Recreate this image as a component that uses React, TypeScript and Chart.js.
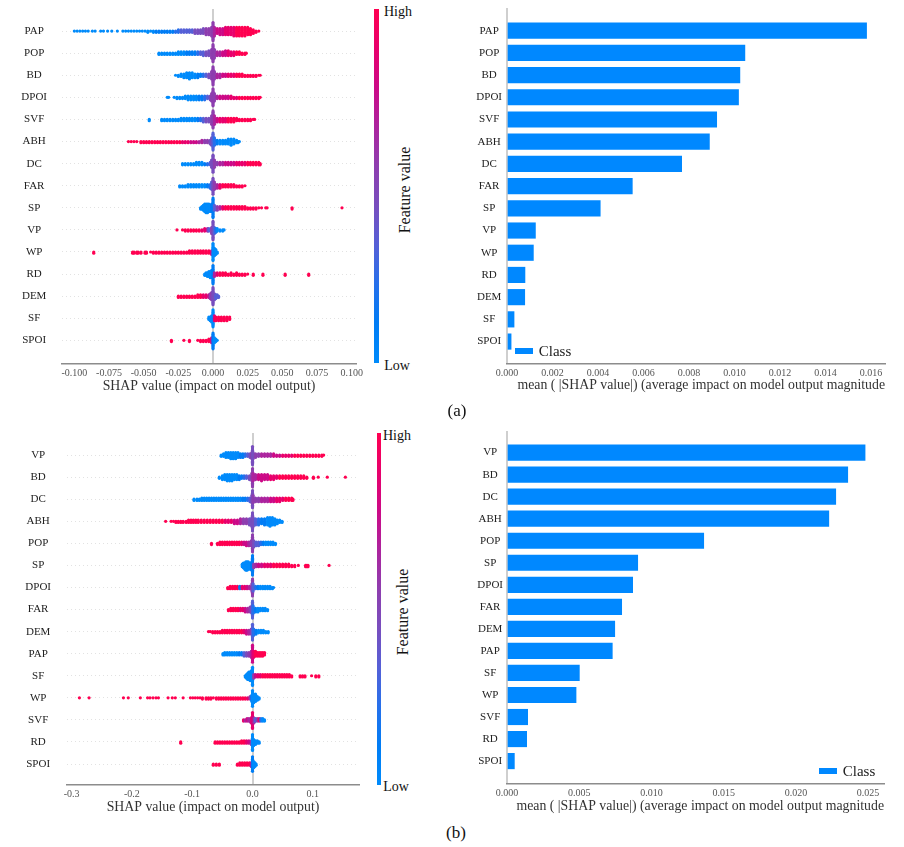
import React, { useEffect, useRef } from "react";
import { Chart, registerables } from "chart.js";

Chart.register(...registerables);

type Bin = [number, number, number]; // SHAP value (x1000), observations in the bin, feature value 0-9

const A_NAMES = ["PAP", "POP", "BD", "DPOI", "SVF", "ABH", "DC", "FAR", "SP", "VP", "WP", "RD", "DEM", "SF", "SPOI"];
const A_MEAN = [0.01581, 0.01046, 0.01024, 0.01018, 0.00922, 0.0089, 0.00768, 0.00551, 0.0041, 0.00125, 0.00116, 0.00079, 0.00078, 0.00031, 0.00018];
const A_SWARM_TICKS = [-0.1, -0.075, -0.05, -0.025, 0, 0.025, 0.05, 0.075, 0.1];
const A_BAR_TICKS = [0, 0.002, 0.004, 0.006, 0.008, 0.01, 0.012, 0.014, 0.016];

const B_NAMES = ["VP", "BD", "DC", "ABH", "POP", "SP", "DPOI", "FAR", "DEM", "PAP", "SF", "WP", "SVF", "RD", "SPOI"];
const B_MEAN = [0.02479, 0.02359, 0.02276, 0.02228, 0.01362, 0.00905, 0.0087, 0.00794, 0.00746, 0.00729, 0.00501, 0.00478, 0.00143, 0.00136, 0.00051];
const B_SWARM_TICKS = [-0.3, -0.2, -0.1, 0, 0.1];
const B_BAR_TICKS = [0, 0.005, 0.01, 0.015, 0.02, 0.025];

const a_PAP: Bin[] = [[-100,1,0],[-98,1,0],[-96,1,0],[-94,1,0],[-92,1,0],[-90,1,0],[-87,1,0],[-85,1,0],[-81,1,0],[-79,1,0],[-76,1,0],[-73,1,0],[-69,1,0],[-65,1,0],[-63,1,0],[-61,1,0],[-59,1,0],[-57,1,0],[-55,1,0],[-53,1,0],[-51,1,0],[-49,1,0],[-47,2,0],[-45,1,0],[-43,2,0],[-41,2,1],[-39,2,1],[-37,2,1],[-35,2,1],[-33,2,1],[-31,2,1],[-29,2,1],[-27,2,2],[-25,3,2],[-23,3,3],[-21,3,3],[-19,3,3],[-17,3,3],[-15,3,3],[-13,4,4],[-11,4,4],[-9,4,4],[-7,5,4],[-5,6,5],[-3,6,5],[-1,8,5],[0,16,5],[1,8,6],[3,5,7],[5,6,7],[7,6,7],[9,7,8],[11,7,8],[13,7,8],[15,8,8],[17,8,9],[19,8,9],[21,8,9],[23,8,9],[25,7,9],[27,6,9],[29,4,9],[31,2,9],[33,1,9]];
const a_POP: Bin[] = [[-39,2,0],[-37,2,0],[-35,2,0],[-33,2,0],[-31,2,0],[-29,2,0],[-27,2,0],[-25,3,0],[-23,3,0],[-21,3,0],[-19,3,1],[-17,3,1],[-15,3,1],[-13,3,1],[-11,3,2],[-9,3,3],[-7,4,3],[-5,4,4],[-3,5,4],[-1,8,5],[0,15,5],[1,8,5],[3,4,6],[5,4,6],[7,4,7],[9,5,7],[11,5,8],[13,4,8],[15,4,8],[17,3,9],[19,3,9],[21,2,9],[23,2,9],[24,1,9]];
const a_BD: Bin[] = [[-27,1,0],[-25,2,0],[-23,3,0],[-21,4,0],[-19,5,0],[-17,6,0],[-15,5,0],[-13,4,0],[-11,4,1],[-9,3,1],[-7,3,2],[-5,3,3],[-3,4,4],[-1,7,5],[0,16,5],[1,7,5],[3,4,6],[5,4,6],[7,3,7],[9,3,7],[11,3,8],[13,3,8],[15,3,8],[17,3,9],[19,3,9],[21,3,9],[23,2,9],[25,2,9],[27,2,9],[29,2,9],[31,2,9],[33,1,9],[34,1,9]];
const a_DPOI: Bin[] = [[-33,1,0],[-32,1,0],[-28,1,0],[-26,2,0],[-24,2,0],[-22,2,0],[-20,3,0],[-18,4,0],[-16,4,0],[-14,4,0],[-12,4,0],[-10,4,1],[-8,4,1],[-6,4,2],[-4,3,3],[-2,4,4],[-1,7,5],[0,15,5],[1,7,5],[3,3,6],[5,3,7],[7,3,7],[9,3,7],[11,3,7],[13,3,8],[15,2,8],[17,2,8],[19,2,9],[21,2,9],[23,2,9],[25,2,9],[27,2,9],[29,2,9],[31,2,9],[33,2,9],[34,1,9]];
const a_SVF: Bin[] = [[-46,2,0],[-37,2,0],[-35,2,0],[-33,2,0],[-31,2,0],[-29,2,0],[-27,2,0],[-25,2,0],[-23,3,0],[-21,3,0],[-19,3,0],[-17,3,0],[-15,3,0],[-13,3,0],[-11,3,1],[-9,3,2],[-7,4,3],[-5,4,4],[-3,4,4],[-1,8,5],[0,15,5],[1,8,6],[3,4,7],[5,4,8],[7,4,8],[9,4,8],[11,4,9],[13,4,9],[15,4,9],[17,3,9],[19,2,9],[21,2,9],[23,2,9],[25,2,9],[27,2,9],[29,1,9],[30,1,9]];
const a_ABH: Bin[] = [[-61,1,9],[-59,1,9],[-57,1,9],[-55,1,9],[-52,2,9],[-50,2,9],[-48,2,9],[-46,2,9],[-44,2,9],[-42,2,9],[-40,2,9],[-38,2,9],[-36,2,9],[-34,2,9],[-32,2,9],[-30,2,9],[-28,2,9],[-26,2,9],[-24,2,9],[-22,2,8],[-20,2,8],[-18,2,8],[-16,2,7],[-14,2,7],[-12,2,7],[-10,2,6],[-8,3,6],[-6,3,5],[-4,3,5],[-2,4,4],[-1,7,4],[0,15,3],[1,7,2],[3,4,1],[5,4,0],[7,4,0],[9,4,0],[11,5,0],[13,6,0],[15,5,0],[17,3,0],[18,2,0],[19,1,0]];
const a_DC: Bin[] = [[-22,2,0],[-20,2,0],[-18,2,0],[-16,2,0],[-14,2,0],[-12,3,0],[-10,3,0],[-8,3,0],[-6,2,1],[-4,2,2],[-2,3,3],[-1,7,4],[0,15,4],[1,7,5],[3,3,5],[5,3,6],[7,3,6],[9,3,7],[11,3,7],[13,3,7],[15,3,7],[17,3,8],[19,3,8],[21,3,8],[23,3,8],[25,3,9],[27,3,9],[29,3,9],[31,3,9],[33,3,9],[34,2,9]];
const a_FAR: Bin[] = [[-24,2,0],[-22,2,0],[-20,2,0],[-18,3,0],[-16,3,0],[-14,3,0],[-12,3,0],[-10,3,0],[-8,3,0],[-6,3,0],[-4,3,1],[-2,4,2],[-1,7,3],[0,14,4],[1,7,5],[3,4,6],[5,4,8],[7,3,9],[9,3,9],[11,3,9],[13,3,9],[15,3,9],[17,2,9],[19,2,9],[21,2,9],[23,1,9]];
const a_SP: Bin[] = [[-9,2,0],[-8,3,0],[-7,5,0],[-6,7,0],[-5,8,0],[-4,8,0],[-3,7,0],[-2,6,0],[-1,7,1],[0,17,1],[1,5,3],[3,4,5],[5,3,6],[7,3,8],[9,3,9],[11,3,9],[13,3,9],[15,3,9],[17,3,9],[19,3,9],[21,3,9],[23,3,9],[25,2,9],[27,2,9],[29,2,9],[31,2,9],[33,1,9],[35,1,9],[38,1,9],[39,1,9],[57,2,9],[93,1,9]];
const a_VP: Bin[] = [[-26,1,9],[-22,1,9],[-20,2,9],[-18,2,9],[-16,2,9],[-14,2,9],[-12,2,9],[-10,2,9],[-8,2,8],[-6,3,8],[-4,3,6],[-3,3,3],[-1,6,5],[0,16,4],[1,6,3],[2,4,2],[3,3,0],[5,2,0],[7,2,0],[8,1,0]];
const a_WP: Bin[] = [[-86,2,9],[-58,2,9],[-57,2,9],[-55,2,9],[-54,2,9],[-52,2,9],[-49,2,9],[-48,2,9],[-45,1,9],[-43,2,9],[-41,2,9],[-39,2,9],[-37,2,9],[-35,2,9],[-33,2,9],[-31,2,9],[-29,2,9],[-27,2,9],[-25,2,9],[-23,2,9],[-21,2,9],[-19,2,9],[-17,3,9],[-15,3,9],[-13,3,9],[-11,3,9],[-9,3,9],[-7,3,9],[-5,3,9],[-3,3,9],[-1,4,7],[0,15,0],[1,7,0],[2,5,0],[3,2,0]];
const a_RD: Bin[] = [[-6,2,0],[-5,3,0],[-4,4,0],[-3,5,0],[-2,6,0],[-1,7,0],[0,16,1],[1,4,6],[3,3,8],[5,3,9],[7,3,9],[9,3,9],[11,2,9],[13,3,9],[15,2,9],[17,3,9],[19,2,9],[21,2,9],[23,2,9],[25,1,9],[29,2,9],[36,2,9],[52,2,9],[69,2,9]];
const a_DEM: Bin[] = [[-25,2,9],[-23,2,9],[-21,2,9],[-19,2,9],[-17,2,9],[-15,2,9],[-13,2,9],[-11,3,9],[-9,3,9],[-7,3,8],[-5,3,8],[-3,3,7],[-2,5,5],[-1,7,5],[0,15,4],[1,6,4],[2,4,3],[3,3,3],[4,2,3]];
const a_SF: Bin[] = [[-3,3,0],[-2,4,0],[-1,6,0],[0,15,0],[1,5,7],[2,4,9],[4,4,9],[6,4,9],[8,4,9],[10,4,9],[12,3,9]];
const a_SPOI: Bin[] = [[-30,2,9],[-21,1,9],[-17,2,9],[-11,1,9],[-9,2,9],[-7,2,9],[-5,2,9],[-3,3,9],[-1,5,7],[0,14,1],[1,5,0],[2,3,0],[3,1,0]];

const b_VP: Bin[] = [[-52,2,0],[-48,3,0],[-44,5,0],[-40,5,0],[-36,6,0],[-32,6,0],[-28,6,0],[-24,5,0],[-20,4,1],[-16,4,1],[-12,3,2],[-8,3,3],[-4,4,4],[-1,6,5],[0,16,4],[1,6,4],[5,4,5],[10,3,5],[15,3,6],[20,3,6],[25,3,6],[30,3,6],[35,3,7],[40,2,7],[45,2,7],[50,2,8],[55,2,8],[60,2,8],[65,2,8],[70,2,9],[75,2,9],[80,2,9],[85,2,9],[90,2,9],[95,2,9],[100,2,9],[105,2,9],[110,2,9],[115,2,9],[118,1,9]];
const b_BD: Bin[] = [[-55,2,0],[-50,4,0],[-46,5,0],[-42,6,0],[-38,6,0],[-34,6,0],[-30,5,0],[-26,5,0],[-22,4,1],[-18,3,1],[-14,3,2],[-10,3,3],[-5,4,4],[-1,7,5],[0,16,5],[1,7,6],[5,5,6],[10,5,7],[15,6,7],[20,5,7],[25,5,7],[30,4,8],[35,4,8],[40,3,8],[45,3,9],[50,3,9],[55,3,9],[60,3,9],[65,3,9],[70,3,9],[75,3,9],[80,3,9],[85,3,9],[90,2,9],[101,2,9],[109,1,9],[124,1,9],[154,1,9]];
const b_DC: Bin[] = [[-97,2,0],[-92,2,0],[-88,2,0],[-84,3,0],[-80,3,0],[-76,3,0],[-72,3,0],[-68,3,0],[-64,3,0],[-60,3,0],[-56,3,0],[-52,3,0],[-48,3,0],[-44,3,0],[-40,3,0],[-36,3,0],[-32,3,0],[-28,3,0],[-24,3,0],[-20,3,0],[-16,3,1],[-12,3,1],[-8,3,2],[-4,4,3],[-1,7,4],[0,15,4],[1,7,5],[5,4,5],[10,4,5],[15,4,6],[20,4,6],[25,4,6],[30,4,7],[35,4,7],[40,4,8],[45,4,8],[50,3,8],[55,3,9],[60,3,9],[65,3,9],[67,2,9]];
const b_ABH: Bin[] = [[-144,1,9],[-135,1,9],[-131,1,9],[-127,2,9],[-123,2,9],[-119,2,9],[-115,2,9],[-110,2,9],[-106,3,9],[-102,3,9],[-98,3,9],[-94,3,9],[-90,3,9],[-85,3,9],[-80,3,9],[-75,3,9],[-70,3,9],[-65,3,9],[-60,3,9],[-55,3,9],[-50,3,9],[-45,3,8],[-40,3,8],[-35,3,8],[-30,4,7],[-25,4,7],[-20,5,6],[-15,5,5],[-10,5,5],[-5,6,4],[-1,8,4],[0,16,4],[1,8,4],[5,6,3],[10,6,2],[15,5,1],[20,6,1],[25,7,0],[29,8,0],[33,7,0],[37,6,0],[41,4,0],[45,3,0],[49,2,0]];
const b_POP: Bin[] = [[-68,2,9],[-58,2,9],[-54,3,9],[-50,3,9],[-46,3,9],[-42,3,9],[-38,3,9],[-34,3,9],[-30,3,9],[-26,3,9],[-22,3,9],[-18,3,8],[-14,3,7],[-10,4,7],[-6,4,6],[-2,5,5],[0,15,5],[2,6,4],[6,4,3],[10,4,3],[14,3,2],[18,3,1],[22,3,0],[26,3,0],[30,3,0],[34,3,0],[38,2,0]];
const b_SP: Bin[] = [[-17,3,0],[-15,5,0],[-13,6,0],[-11,8,0],[-9,8,0],[-7,7,0],[-5,6,0],[-3,6,0],[-1,8,1],[0,17,1],[2,4,5],[6,3,6],[10,3,7],[15,3,7],[20,3,8],[25,3,8],[30,3,8],[35,3,9],[40,3,9],[45,3,9],[50,3,9],[55,3,9],[60,3,9],[65,2,9],[70,2,9],[76,1,9],[88,2,9],[90,2,9],[92,2,9],[127,1,9]];
const b_DPOI: Bin[] = [[-41,2,9],[-37,3,9],[-33,3,9],[-29,3,9],[-25,3,9],[-21,3,1],[-17,3,8],[-13,3,8],[-9,3,7],[-5,3,6],[-1,7,5],[0,15,5],[1,7,3],[5,3,2],[9,3,1],[13,3,0],[17,3,0],[21,3,0],[25,3,0],[29,3,0],[33,2,0],[35,1,0]];
const b_FAR: Bin[] = [[-40,2,9],[-36,3,9],[-32,3,9],[-28,3,9],[-24,3,9],[-20,3,8],[-16,3,8],[-12,4,7],[-8,4,6],[-4,5,5],[-1,7,4],[0,15,3],[1,7,2],[5,4,1],[9,4,0],[13,3,0],[17,3,0],[21,3,0],[25,2,0]];
const b_DEM: Bin[] = [[-73,1,9],[-70,1,9],[-66,2,9],[-62,2,9],[-58,2,9],[-54,2,9],[-50,3,9],[-46,3,9],[-42,3,9],[-38,3,9],[-34,3,9],[-30,3,9],[-26,3,9],[-22,3,9],[-18,3,9],[-14,3,8],[-10,4,7],[-6,4,6],[-2,5,5],[0,14,3],[2,6,2],[6,4,1],[10,3,0],[14,3,0],[18,3,0],[22,2,0],[26,2,0]];
const b_PAP: Bin[] = [[-49,2,0],[-46,3,0],[-42,3,0],[-38,3,0],[-34,3,0],[-30,3,0],[-26,3,0],[-22,3,1],[-18,3,1],[-14,4,3],[-10,4,4],[-6,4,5],[-2,6,6],[0,15,7],[2,6,8],[5,5,9],[8,4,9],[11,4,9],[14,4,9],[17,4,9],[20,3,9]];
const b_SF: Bin[] = [[-12,2,0],[-10,4,0],[-8,6,0],[-6,7,0],[-4,8,0],[-2,9,0],[0,16,0],[2,4,5],[5,3,7],[9,3,8],[13,3,8],[17,3,9],[21,3,9],[25,3,9],[29,3,9],[33,3,9],[37,3,9],[41,3,9],[45,3,9],[49,3,9],[53,3,9],[57,3,9],[61,3,9],[65,2,9],[79,2,9],[83,2,9],[87,2,9],[98,1,9],[105,2,9],[110,2,9]];
const b_WP: Bin[] = [[-287,1,9],[-271,1,9],[-214,1,9],[-206,1,9],[-186,1,9],[-174,1,9],[-170,1,9],[-165,1,9],[-160,1,9],[-156,1,9],[-140,1,9],[-133,1,9],[-128,1,9],[-115,1,9],[-103,1,9],[-99,1,9],[-95,1,9],[-91,1,9],[-87,1,9],[-83,2,9],[-77,2,9],[-73,2,9],[-69,2,9],[-65,1,9],[-60,2,9],[-56,2,9],[-52,2,9],[-48,2,9],[-44,2,9],[-40,2,9],[-36,2,9],[-32,2,9],[-28,2,9],[-24,2,9],[-20,2,9],[-16,2,9],[-12,2,9],[-8,2,8],[-4,3,5],[-1,6,1],[0,14,0],[2,8,0],[5,7,0],[8,4,0],[11,2,0]];
const b_SVF: Bin[] = [[-15,2,8],[-12,2,6],[-9,3,7],[-6,3,6],[-3,4,6],[-1,6,8],[0,14,8],[1,6,7],[3,4,5],[5,3,3],[8,3,5],[11,3,8],[14,3,2],[17,3,0],[20,2,0]];
const b_RD: Bin[] = [[-119,2,9],[-62,2,9],[-58,2,9],[-54,2,9],[-50,2,9],[-46,2,9],[-42,2,9],[-38,2,9],[-34,2,9],[-30,2,9],[-26,2,9],[-22,2,9],[-18,3,9],[-14,3,9],[-10,3,8],[-6,3,7],[-2,4,5],[0,14,0],[2,6,0],[5,4,0],[8,3,0],[11,2,0]];
const b_SPOI: Bin[] = [[-65,2,9],[-60,2,9],[-55,2,9],[-25,2,9],[-21,3,9],[-17,3,9],[-13,3,9],[-9,3,9],[-5,3,9],[-2,4,6],[0,13,1],[2,6,0],[4,4,0],[6,2,0]];

const A_BINS = [a_PAP, a_POP, a_BD, a_DPOI, a_SVF, a_ABH, a_DC, a_FAR, a_SP, a_VP, a_WP, a_RD, a_DEM, a_SF, a_SPOI];
const B_BINS = [b_VP, b_BD, b_DC, b_ABH, b_POP, b_SP, b_DPOI, b_FAR, b_DEM, b_PAP, b_SF, b_WP, b_SVF, b_RD, b_SPOI];

const SERIF = "'Liberation Serif', 'Times New Roman', serif";
const BAR_BLUE = "#0088ff";
const RAMP: [number, number, number][] = [[0, 139, 251], [0, 125, 245], [38, 112, 235], [85, 96, 215], [120, 78, 190], [142, 62, 175], [172, 36, 158], [204, 10, 135], [232, 0, 108], [255, 0, 81]];
const css = (c: number[]) => `rgb(${c[0]},${c[1]},${c[2]})`;
const RAMP_CSS = `linear-gradient(to top, ${RAMP.map(css).join(", ")})`;

const STACK_GAP = 0.055; // one stacked observation, in row units

function expand(rows: Bin[][]) {
  const points: { x: number; y: number }[] = [];
  const colors: string[] = [];
  rows.forEach((bins, row) => {
    bins.forEach(([shap, count, value]) => {
      for (let k = 0; k < count; k++) {
        const side = k % 2 ? 1 : -1;
        points.push({ x: shap / 1000, y: row + side * ((k + 1) >> 1) * STACK_GAP });
        colors.push(css(RAMP[value]));
      }
    });
  });
  return { points, colors };
}

type Box = { w: number; h: number; top: number; right: number; axisW: number; axisH: number; xMin: number; xMax: number; yMin: number; yMax: number; titleBottom: number; labelGap: number };

function baseOptions(names: string[], xTicks: number[], digits: number, title: string, titleAlign: "center" | "end", box: Box, rowGrid: boolean): any {
  const rows = names.map((_, i) => i);
  return {
    responsive: false,
    maintainAspectRatio: false,
    animation: false,
    events: [],
    layout: { autoPadding: false, padding: { top: box.top, right: box.right, left: 0, bottom: 0 } },
    plugins: { legend: { display: false }, tooltip: { enabled: false } },
    scales: {
      x: {
        type: "linear",
        min: box.xMin,
        max: box.xMax,
        afterFit: (s: any) => { s.height = box.axisH; s.paddingTop = 0; s.paddingBottom = 0; s.paddingLeft = 0; s.paddingRight = 0; },
        afterBuildTicks: (s: any) => { s.ticks = xTicks.map((value) => ({ value })); },
        border: { display: true, color: "#8c8c8c", width: 1.5 },
        grid: {
          drawTicks: false,
          tickLength: 0,
          color: (c: any) => (c.tick && c.tick.value === 0 ? "#cfcfcf" : "rgba(0,0,0,0)"),
          lineWidth: 2,
        },
        ticks: {
          autoSkip: false,
          maxRotation: 0,
          padding: 3,
          color: "#555",
          font: { family: SERIF, size: 10 },
          callback: (v: number) => Number(v).toFixed(digits),
        },
        title: { display: true, text: title, align: titleAlign, color: "#333", font: { family: SERIF, size: 13.8 }, padding: { top: 0, bottom: box.titleBottom } },
      },
      y: {
        type: "linear",
        reverse: true,
        offset: false,
        min: box.yMin,
        max: box.yMax,
        afterFit: (s: any) => { s.width = box.axisW; s.paddingTop = 0; s.paddingBottom = 0; s.paddingLeft = 0; s.paddingRight = 0; },
        afterBuildTicks: (s: any) => { s.ticks = rows.map((value) => ({ value })); },
        border: { display: false, dash: [1, 3] },
        grid: { offset: false, display: rowGrid, drawTicks: false, tickLength: 0, color: "#e2e2e2", lineWidth: 1 },
        ticks: {
          autoSkip: false,
          crossAlign: "center",
          padding: box.labelGap,
          color: "#222",
          font: { family: SERIF, size: 11 },
          callback: (v: number) => names[v],
        },
      },
    },
  };
}

function Swarm({ left, top, names, bins, ticks, digits, box }: any) {
  const ref = useRef<HTMLCanvasElement>(null);
  useEffect(() => {
    const { points, colors } = expand(bins);
    const chart = new Chart(ref.current!, {
      type: "scatter",
      data: { datasets: [{ label: "SHAP value", data: points, pointBackgroundColor: colors, pointBorderWidth: 0, pointRadius: 1.6 }] },
      options: baseOptions(names, ticks, digits, "SHAP value (impact on model output)", "center", box, true),
    });
    return () => chart.destroy();
  }, []);
  return <canvas ref={ref} width={box.w} height={box.h} style={{ position: "absolute", left, top, width: box.w, height: box.h }} />;
}

function Bars({ left, top, names, values, ticks, digits, box }: any) {
  const ref = useRef<HTMLCanvasElement>(null);
  useEffect(() => {
    const chart = new Chart(ref.current!, {
      type: "bar",
      data: { datasets: [{ label: "Class", data: values.map((x: number, y: number) => ({ x, y })), backgroundColor: BAR_BLUE, borderWidth: 0, barThickness: 15.5 }] },
      options: {
        indexAxis: "y",
        ...baseOptions(names, ticks, digits, "mean ( |SHAP value|) (average impact on model output magnitude", "end", box, false),
      },
    });
    return () => chart.destroy();
  }, []);
  return <canvas ref={ref} width={box.w} height={box.h} style={{ position: "absolute", left, top, width: box.w, height: box.h }} />;
}

function Text({ x, y, size, rotate, color, children }: any) {
  return (
    <div style={{ position: "absolute", left: x, top: y, fontFamily: SERIF, fontSize: size, lineHeight: 1, color: color || "#111", whiteSpace: "nowrap", transform: `translate(-50%,-50%)${rotate ? " rotate(-90deg)" : ""}` }}>
      {children}
    </div>
  );
}

function ColorBar({ x, w, top, bottom, highX, lowX, highY, lowY, titleX, titleY }: any) {
  return (
    <>
      <div style={{ position: "absolute", left: x, top, width: w, height: bottom - top, background: RAMP_CSS }} />
      <Text x={highX} y={highY} size={14}>High</Text>
      <Text x={lowX} y={lowY} size={14}>Low</Text>
      <Text x={titleX} y={titleY} size={16} rotate>Feature value</Text>
    </>
  );
}

function LegendKey({ x, y, textX, textY }: any) {
  return (
    <>
      <div style={{ position: "absolute", left: x, top: y, width: 18, height: 6, background: BAR_BLUE }} />
      <Text x={textX} y={textY} size={15} color="#222">Class</Text>
    </>
  );
}

const SWARM_A: Box = { w: 372, h: 402, top: 9, right: 16, axisW: 62, axisH: 38, xMin: -0.1089, xMax: 0.1031, yMin: -1, yMax: 15.07, titleBottom: 7, labelGap: 15 };
const SWARM_B: Box = { w: 372, h: 402, top: 13, right: 13, axisW: 67, axisH: 37, xMin: -0.3076, xMax: 0.1766, yMin: -1, yMax: 14.95, titleBottom: 6, labelGap: 16 };
const BAR_A: Box = { w: 444, h: 402, top: 8, right: 19, axisW: 47, axisH: 38, xMin: 0, xMax: 0.01662, yMin: -1.02, yMax: 15.01, titleBottom: 8, labelGap: 5 };
const BAR_B: Box = { w: 444, h: 402, top: 11, right: 20, axisW: 47, axisH: 38, xMin: 0, xMax: 0.0261, yMin: -0.98, yMax: 15.04, titleBottom: 7, labelGap: 4 };

export default function App() {
  return (
    <div style={{ position: "absolute", left: 0, top: 0, width: 904, height: 847, overflow: "hidden", background: "#fff", filter: "blur(0.35px)" }}>
      <Swarm left={0} top={0} names={A_NAMES} bins={A_BINS} ticks={A_SWARM_TICKS} digits={3} box={SWARM_A} />
      <Bars left={460} top={0} names={A_NAMES} values={A_MEAN} ticks={A_BAR_TICKS} digits={3} box={BAR_A} />
      <Swarm left={0} top={420} names={B_NAMES} bins={B_BINS} ticks={B_SWARM_TICKS} digits={1} box={SWARM_B} />
      <Bars left={460} top={420} names={B_NAMES} values={B_MEAN} ticks={B_BAR_TICKS} digits={3} box={BAR_B} />
      <ColorBar x={374} w={5} top={9} bottom={363} highX={398} lowX={397} highY={12} lowY={366} titleX={405} titleY={190} />
      <ColorBar x={377} w={4} top={433} bottom={785} highX={397} lowX={396} highY={436} lowY={787} titleX={403} titleY={612} />
      <LegendKey x={515} y={348} textX={555} textY={351} />
      <LegendKey x={819} y={768} textX={859} textY={771} />
      <Text x={457} y={410} size={17}>(a)</Text>
      <Text x={456} y={832} size={17}>(b)</Text>
    </div>
  );
}
